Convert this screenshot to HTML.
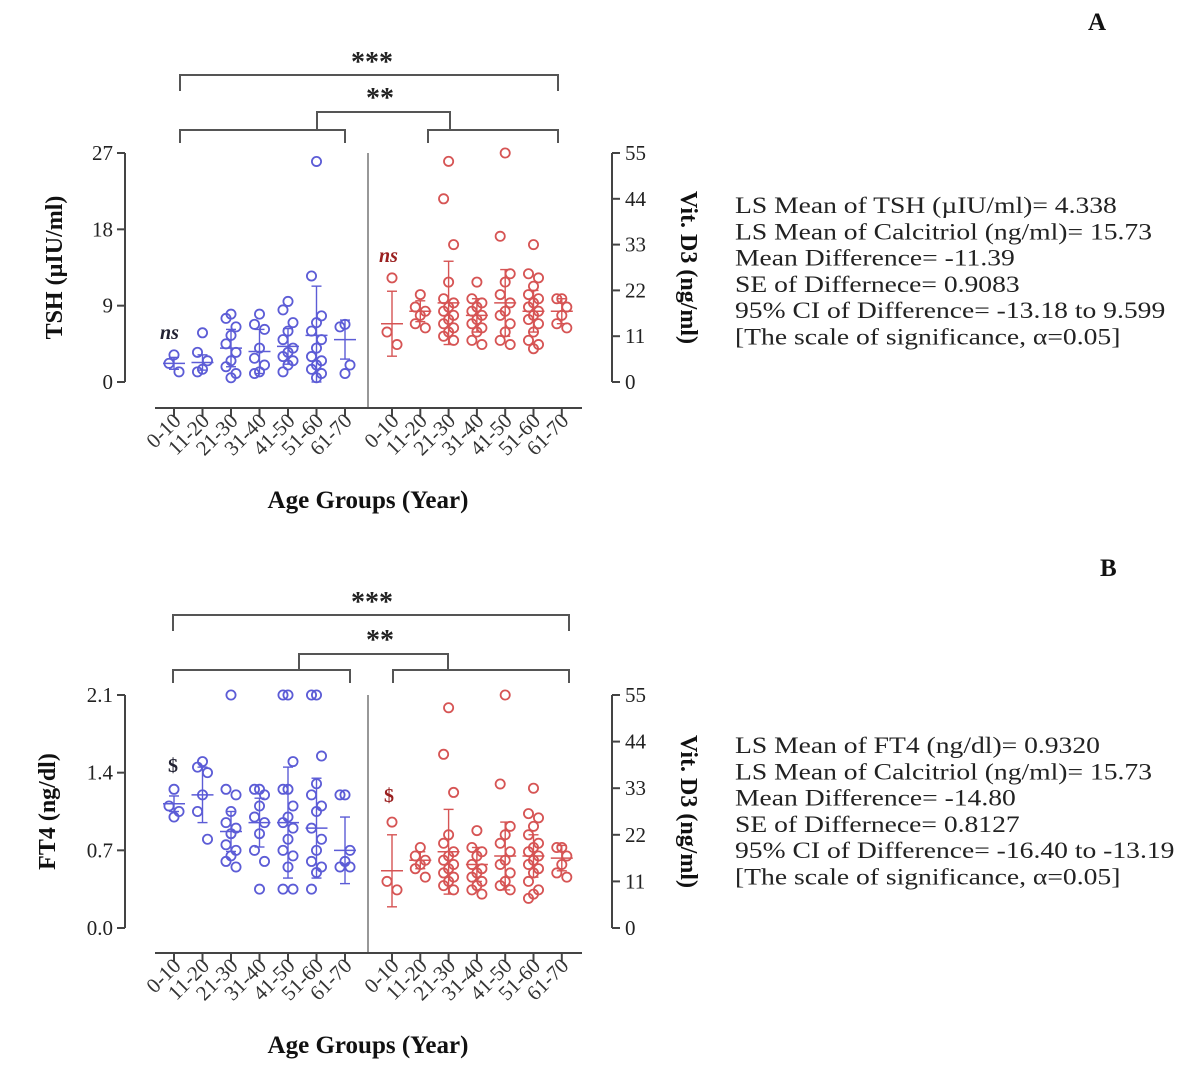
<!DOCTYPE html>
<html><head><meta charset="utf-8"><style>
html,body{margin:0;padding:0;background:#fff;}
svg{display:block;font-family:"Liberation Serif",serif;}
</style></head><body>
<svg id="fig" width="1200" height="1067" viewBox="0 0 1200 1067" xmlns="http://www.w3.org/2000/svg">
<g id="root"></g>
</svg>
<script>
// ---------- Data ----------
const ageGroups = ["0-10","11-20","21-30","31-40","41-50","51-60","61-70"];
// Panel A: TSH (µIU/ml)
const tshPoints = [[3.2,2.2,1.2],[5.8,3.5,2.5,1.5,1.2],[8.0,7.5,6.5,5.5,4.5,3.5,2.5,1.8,1.0,0.5],[8.0,6.8,6.2,4.0,2.8,2.0,1.2,1.0],[9.5,8.5,7.0,6.0,5.0,4.0,3.5,3.0,2.5,2.0,1.2],[26,12.5,7.8,7.0,6.0,5.0,4.0,3.0,2.5,2.0,1.5,1.0,0.5],[6.8,6.5,2.0,1.0]];
const tshMean = [2.2,2.3,4.0,3.6,4.2,5.5,5.0];
const tshSD = [0.7,0.9,2.2,2.6,2.1,5.8,2.3];
const vitA_Points = [[25,12,9],[21,18,17,16,14,13],[53,44,33,24,20,19,18,17,16,15,14,13,12,11,10],[24,20,19,18,17,16,15,14,13,12,10,9],[55,35,26,24,21,19,17,16,14,12,10,9],[33,26,25,23,21,20,19,18,17,16,15,14,12,10,9,8],[20,20,18,16,14,13]];
const vitA_Mean = [14,17,19,16,19,17,17];
const vitA_SD = [7.8,2.5,10,4,8,5,3];
// Panel B: FT4 (ng/dl)
const ft4Points = [[1.25,1.1,1.05,1.0],[1.5,1.45,1.4,1.2,1.05,0.8],[2.1,1.25,1.2,1.05,0.95,0.9,0.85,0.75,0.7,0.65,0.6,0.55],[1.25,1.25,1.2,1.1,1.0,0.95,0.85,0.7,0.6,0.35],[2.1,2.1,1.5,1.25,1.25,1.1,1.0,0.95,0.9,0.8,0.7,0.65,0.55,0.35,0.35],[2.1,2.1,1.55,1.3,1.2,1.1,1.05,0.9,0.8,0.7,0.6,0.55,0.5,0.35],[1.2,1.2,0.7,0.6,0.55,0.55]];
const ft4Mean = [1.12,1.2,0.87,0.95,0.95,0.9,0.7];
const ft4SD = [0.07,0.25,0.18,0.22,0.5,0.45,0.3];
const vitB_Points = [[25,11,9],[19,17,16,15,14,12],[52,41,32,22,20,18,17,16,15,14,13,12,11,10,9],[23,19,18,17,15,14,13,12,11,10,9,8],[55,34,24,22,20,18,16,15,13,11,10,9],[33,27,26,24,22,20,19,18,17,16,15,14,13,11,9,8,7],[19,19,17,15,13,12]];
const vitB_Mean = [13.5,16,18,15,17,17,16.5];
const vitB_SD = [8.5,2,10,4,8,5,3];
const tshTicks = ["0","9","18","27"];
const ft4Ticks = ["0.0","0.7","1.4","2.1"];
const vitTicks = ["0","11","22","33","44","55"];
const statsA = ["LS Mean of TSH (\u00b5IU/ml)= 4.338","LS Mean of Calcitriol (ng/ml)= 15.73","Mean Difference= -11.39","SE of Differnece= 0.9083","95% CI of Difference= -13.18 to 9.599","[The scale of significance, \u03b1=0.05]"];
const statsB = ["LS Mean of FT4 (ng/dl)= 0.9320","LS Mean of Calcitriol (ng/ml)= 15.73","Mean Difference= -14.80","SE of Differnece= 0.8127","95% CI of Difference= -16.40 to -13.19","[The scale of significance, \u03b1=0.05]"];

// ---------- Drawing ----------
const NS="http://www.w3.org/2000/svg";
const root=document.getElementById('root');
function el(tag,attrs,parent,text){const e=document.createElementNS(NS,tag);for(const k in attrs)e.setAttribute(k,attrs[k]);if(text!==undefined)e.textContent=text;(parent||root).appendChild(e);return e;}
const BLUE="#5c5cd6", RED="#d65454", AX="#444";
const xBlue=i=>174+i*28.5, xRed=i=>392+i*28.3;

function panel(o){
  const g=el('g',{});
  
  
  const yL=v=>o.y0-(v/o.lmax)*(o.y0-o.yTop);
  const yR=v=>o.y0-(v/55)*(o.y0-o.yTop);
  const la=el('g',{},g);
  el('line',{x1:125,y1:o.yTop,x2:125,y2:o.y0,stroke:AX,'stroke-width':2},la);
  o.lticks.forEach(t=>{const y=yL(parseFloat(t));el('line',{x1:117,y1:y,x2:125,y2:y,stroke:AX,'stroke-width':2},la);
    const tx=el('text',{x:113,y:y+7,'text-anchor':'end','font-size':21,fill:'#222'},la,t);});
  const lt=el('text',{transform:`translate(${o.lx},${(o.yTop+o.y0)/2}) rotate(-90)`,'text-anchor':'middle','font-size':24,'font-weight':'bold',fill:'#111'},g,o.ltitle);
  
  const ra=el('g',{},g);
  el('line',{x1:612,y1:o.yTop,x2:612,y2:o.y0,stroke:AX,'stroke-width':2},ra);
  vitTicks.forEach(t=>{const y=yR(parseFloat(t));el('line',{x1:612,y1:y,x2:620,y2:y,stroke:AX,'stroke-width':2},ra);
    const tx=el('text',{x:625,y:y+7,'font-size':21,fill:'#222'},ra,t);});
  const rt=el('text',{transform:`translate(681,${(o.yTop+o.y0)/2}) rotate(90)`,'text-anchor':'middle','font-size':24,'font-weight':'bold',fill:'#111'},g,"Vit. D3 (ng/ml)");
  
  el('line',{x1:368,y1:o.yTop,x2:368,y2:o.xAxisY,stroke:'#777','stroke-width':1.5},g);
  const xa=el('g',{},g);
  el('line',{x1:155,y1:o.xAxisY,x2:582,y2:o.xAxisY,stroke:AX,'stroke-width':2},xa);
  ageGroups.forEach((a,i)=>{[xBlue(i),xRed(i)].forEach(x=>{
    el('line',{x1:x,y1:o.xAxisY,x2:x,y2:o.xAxisY+8,stroke:AX,'stroke-width':2},xa);
    const tx=el('text',{transform:`translate(${x+8},${o.xAxisY+14}) rotate(-45)`,'text-anchor':'end','font-size':21,fill:'#333'},xa,a);
    });});
  const xt=el('text',{x:368,y:o.xAxisY+100,'text-anchor':'middle','font-size':25,'font-weight':'bold',fill:'#111'},g,"Age Groups (Year)");
  
  function series(pts,mean,sd,xf,yf,col,nm){
    const sg=el('g',{},g);
    pts.forEach((arr,i)=>{const cx=xf(i);
      const m=yf(mean[i]),hi=yf(mean[i]+sd[i]),lo=yf(Math.max(0,mean[i]-sd[i]));
      const eb=el('g',{},sg);
      el('line',{x1:cx,y1:hi,x2:cx,y2:lo,stroke:col,'stroke-width':1.4},eb);
      el('line',{x1:cx-5,y1:hi,x2:cx+5,y2:hi,stroke:col,'stroke-width':1.4},eb);
      el('line',{x1:cx-5,y1:lo,x2:cx+5,y2:lo,stroke:col,'stroke-width':1.4},eb);
      el('line',{x1:cx-11,y1:m,x2:cx+11,y2:m,stroke:col,'stroke-width':1.5},eb);
      arr.forEach((v,j)=>{const off=(j%3===0)?0:(j%3===1?-5:5);
        const c=el('circle',{cx:cx+off,cy:yf(v),r:4.6,fill:'none',stroke:col,'stroke-width':1.8},sg);
        });
    });
  }
  series(o.lp,o.lm,o.ls,xBlue,yL,BLUE,o.lname);
  series(o.rp,o.rm,o.rs,xRed,yR,RED,'vit-d3-series');
  const br=el('g',{fill:'none',stroke:'#555','stroke-width':2},g);
  const b=o.br;
  el('path',{d:`M${b.l1} ${b.t1+16} V${b.t1} H${b.r1} V${b.t1+16}`},br);
  el('path',{d:`M${b.cl} ${b.t3} V${b.t2} H${b.cr} V${b.t3}`},br);
  el('path',{d:`M${b.l1} ${b.t3+13} V${b.t3} H${b.lm}  V${b.t3+13}`},br);
  el('path',{d:`M${b.rm} ${b.t3+13} V${b.t3} H${b.r1} V${b.t3+13}`},br);
  const s3=el('text',{x:372,y:b.t1-4,'text-anchor':'middle','font-size':28,'font-weight':'bold',fill:'#222'},g,"***");
  const s2=el('text',{x:380,y:b.t2-5,'text-anchor':'middle','font-size':28,'font-weight':'bold',fill:'#222'},g,"**");
  const a1=el('text',{x:o.ann1[0],y:o.ann1[1],'font-size':20,'font-weight':'bold','font-style':o.annItal?'italic':'normal',fill:'#223'},g,o.annText);
  const a2=el('text',{x:o.ann2[0],y:o.ann2[1],'font-size':20,'font-weight':'bold','font-style':o.annItal?'italic':'normal',fill:'#9a2020'},g,o.annText);
  const st=el('g',{transform:`translate(735,0) scale(1.2,1)`},g);
  o.stats.forEach((s,i)=>{const t=el('text',{x:0,y:o.statY+i*26.3,'font-size':23,fill:'#222'},st,s);});
  const pl=el('text',{x:o.plx,y:o.ply,'font-size':25,'font-weight':'bold',fill:'#111'},g,o.plabel);
}

panel({name:'panel-a',yTop:153,y0:382,xAxisY:408,lmax:27,lticks:tshTicks,ltitle:"TSH (\u00b5IU/ml)",lx:62,lname:'tsh-series',
  lp:tshPoints,lm:tshMean,ls:tshSD,rp:vitA_Points,rm:vitA_Mean,rs:vitA_SD,
  br:{l1:180,r1:558,t1:75,t2:112,t3:130,cl:317,cr:450,lm:345,rm:428},
  ann1:[160,339],ann2:[379,262],annText:"ns",annItal:true,stats:statsA,statY:213,plabel:"A",plx:1088,ply:30});
panel({name:'panel-b',yTop:695,y0:928,xAxisY:953,lmax:2.1,lticks:ft4Ticks,ltitle:"FT4 (ng/dl)",lx:55,lname:'ft4-series',
  lp:ft4Points,lm:ft4Mean,ls:ft4SD,rp:vitB_Points,rm:vitB_Mean,rs:vitB_SD,
  br:{l1:173,r1:569,t1:615,t2:654,t3:670,cl:299,cr:448,lm:350,rm:393},
  ann1:[168,772],ann2:[384,802],annText:"$",annItal:false,stats:statsB,statY:753,plabel:"B",plx:1100,ply:576});
</script>
</body></html>
